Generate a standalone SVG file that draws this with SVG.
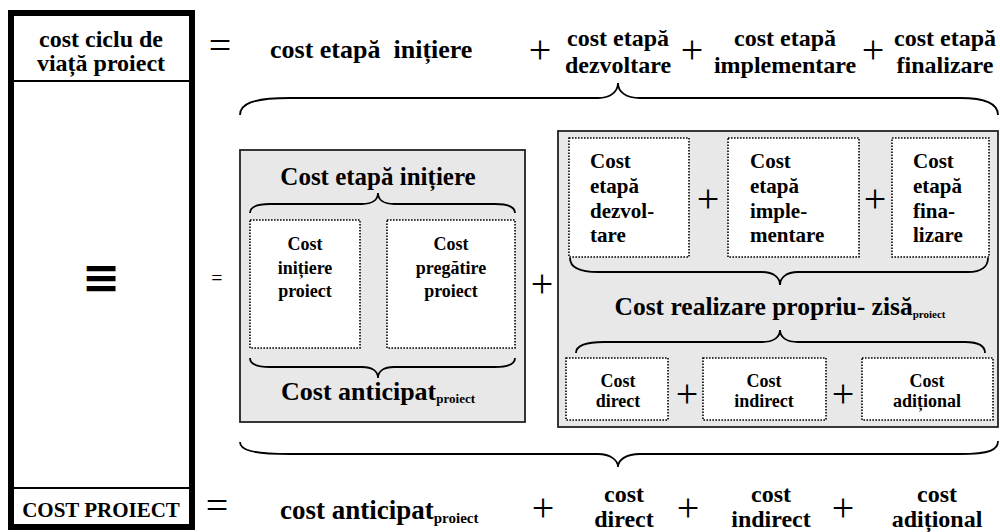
<svg xmlns="http://www.w3.org/2000/svg" width="1000" height="532" viewBox="0 0 1000 532">
  <style>
    text { font-family: "Liberation Serif", "Times New Roman", serif; font-weight: bold; fill: #000; }
    .c { text-anchor: middle; }
    .panel { fill: #e8e8e8; stroke: #222; stroke-width: 1.8; }
    .dot { fill: #fff; stroke: #000; stroke-width: 1.6; stroke-dasharray: 1.6 1.4; }
    .brace { fill: none; stroke: #000; stroke-width: 1.8; }
    .op { font-weight: normal; text-anchor: middle; font-size: 40px; }
  </style>

  <!-- left column: life-cycle cost / project cost -->
  <g id="left-column">
    <rect x="11" y="13" width="181" height="514" fill="#fff" stroke="#000" stroke-width="6"/>
    <line x1="14" y1="81" x2="189" y2="81" stroke="#000" stroke-width="2"/>
    <line x1="14" y1="488" x2="189" y2="488" stroke="#000" stroke-width="2"/>
    <text class="c" x="101" y="47" font-size="24">cost ciclu de</text>
    <text class="c" x="101" y="71" font-size="24">viață proiect</text>
    <text class="c" x="101" y="293" font-size="46" style="font-family:'DejaVu Sans',sans-serif">≡</text>
    <text class="c" x="101" y="517" font-size="21">COST PROIECT</text>
  </g>

  <!-- top equation -->
  <g id="top-equation">
    <text class="op" x="220" y="59">=</text>
    <text x="270" y="58" font-size="26" xml:space="preserve">cost etapă  inițiere</text>
    <text class="op" x="540" y="63">+</text>
    <text class="c" x="618" y="46" font-size="24">cost etapă</text>
    <text class="c" x="618" y="73" font-size="24">dezvoltare</text>
    <text class="op" x="692" y="63">+</text>
    <text class="c" x="785" y="46" font-size="24">cost etapă</text>
    <text class="c" x="785" y="73" font-size="24">implementare</text>
    <text class="op" x="873" y="63">+</text>
    <text class="c" x="945" y="46" font-size="24">cost etapă</text>
    <text class="c" x="945" y="73" font-size="24">finalizare</text>
  </g>

  <!-- bottom equation -->
  <g id="bottom-equation">
    <text class="op" x="217" y="519">=</text>
    <text x="280" y="519" font-size="27">cost anticipat<tspan font-size="15" dy="4">proiect</tspan></text>
    <text class="op" x="543" y="521">+</text>
    <text class="c" x="624" y="502" font-size="24">cost</text>
    <text class="c" x="624" y="527" font-size="24">direct</text>
    <text class="op" x="688" y="521">+</text>
    <text class="c" x="771" y="502" font-size="24">cost</text>
    <text class="c" x="771" y="527" font-size="24">indirect</text>
    <text class="op" x="843" y="521">+</text>
    <text class="c" x="937" y="502" font-size="24">cost</text>
    <text class="c" x="937" y="527" font-size="24">adițional</text>
  </g>

  <text class="op" x="217" y="285" style="font-size:20px" id="eq-middle">=</text>

  <!-- initiation stage panel -->
  <g id="panel-initiere">
    <rect class="panel" x="240" y="150" width="285" height="272"/>
    <text class="c" x="378" y="185" font-size="25">Cost etapă inițiere</text>
    <rect class="dot" x="250" y="220" width="110" height="128"/>
    <rect class="dot" x="387" y="220" width="128" height="128"/>
    <text class="c" x="305" y="250" font-size="18">Cost</text>
    <text class="c" x="305" y="274" font-size="18">inițiere</text>
    <text class="c" x="305" y="297" font-size="18">proiect</text>
    <text class="c" x="451" y="250" font-size="18">Cost</text>
    <text class="c" x="451" y="274" font-size="18">pregătire</text>
    <text class="c" x="451" y="297" font-size="18">proiect</text>
    <text class="c" x="378" y="400" font-size="26">Cost anticipat<tspan font-size="13" dy="3">proiect</tspan></text>
  </g>

  <text class="op" x="542" y="297" id="plus-middle">+</text>

  <!-- execution stage panel -->
  <g id="panel-realizare">
    <rect class="panel" x="558" y="131" width="440" height="296"/>
    <rect class="dot" x="569" y="138" width="120" height="119"/>
    <rect class="dot" x="728" y="138" width="131" height="119"/>
    <rect class="dot" x="892" y="138" width="97" height="119"/>
    <text x="590" y="168" font-size="21">Cost</text>
    <text x="590" y="193" font-size="21">etapă</text>
    <text x="590" y="218" font-size="21">dezvol-</text>
    <text x="590" y="242" font-size="21">tare</text>
    <text x="750" y="168" font-size="21">Cost</text>
    <text x="750" y="193" font-size="21">etapă</text>
    <text x="750" y="218" font-size="21">imple-</text>
    <text x="750" y="242" font-size="21">mentare</text>
    <text x="913" y="168" font-size="21">Cost</text>
    <text x="913" y="193" font-size="21">etapă</text>
    <text x="913" y="218" font-size="21">fina-</text>
    <text x="913" y="242" font-size="21">lizare</text>
    <text class="op" x="708" y="212">+</text>
    <text class="op" x="875" y="212">+</text>
    <text class="c" x="780" y="315" font-size="25.5">Cost realizare propriu- zisă<tspan font-size="11" dy="3">proiect</tspan></text>
    <rect class="dot" x="566" y="358" width="102" height="62"/>
    <rect class="dot" x="703" y="358" width="123" height="62"/>
    <rect class="dot" x="862" y="358" width="131" height="62"/>
    <text class="c" x="618" y="387" font-size="18">Cost</text>
    <text class="c" x="618" y="407" font-size="18">direct</text>
    <text class="c" x="764" y="387" font-size="18">Cost</text>
    <text class="c" x="764" y="407" font-size="18">indirect</text>
    <text class="c" x="927" y="387" font-size="18">Cost</text>
    <text class="c" x="927" y="407" font-size="18">adițional</text>
    <text class="op" x="687" y="407">+</text>
    <text class="op" x="843" y="407">+</text>
  </g>

  <!-- braces -->
  <g id="connectors">
    <path class="brace" d="M240,115 C240,104 252,98 290,98 L598,98 C610,98 618,92 618,83 C618,92 626,98 640,98 L960,98 C990,98 998,106 998,115"/>
    <path class="brace" d="M240,442 C240,450 252,454 290,454 L598,454 C610,454 618,460 618,467 C618,460 626,454 640,454 L960,454 C990,454 998,450 998,441"/>
    <path class="brace" d="M250,213 C250,207 256,204 270,204 L362,204 C372,204 378,200 378,193 C378,200 384,204 394,204 L495,204 C509,204 515,207 515,213"/>
    <path class="brace" d="M250,358 C250,364 256,367 270,367 L362,367 C372,367 378,371 378,378 C378,371 384,367 394,367 L495,367 C509,367 515,364 515,358"/>
    <path class="brace" d="M570,258 C570,266 578,272 598,272 L762,272 C774,272 780,278 780,285 C780,278 786,272 798,272 L968,272 C982,272 988,266 988,258"/>
    <path class="brace" d="M576,353 C576,346 584,342 604,342 L762,342 C774,342 780,337 780,330 C780,337 786,342 798,342 L965,342 C979,342 985,346 985,353"/>
  </g>
</svg>
